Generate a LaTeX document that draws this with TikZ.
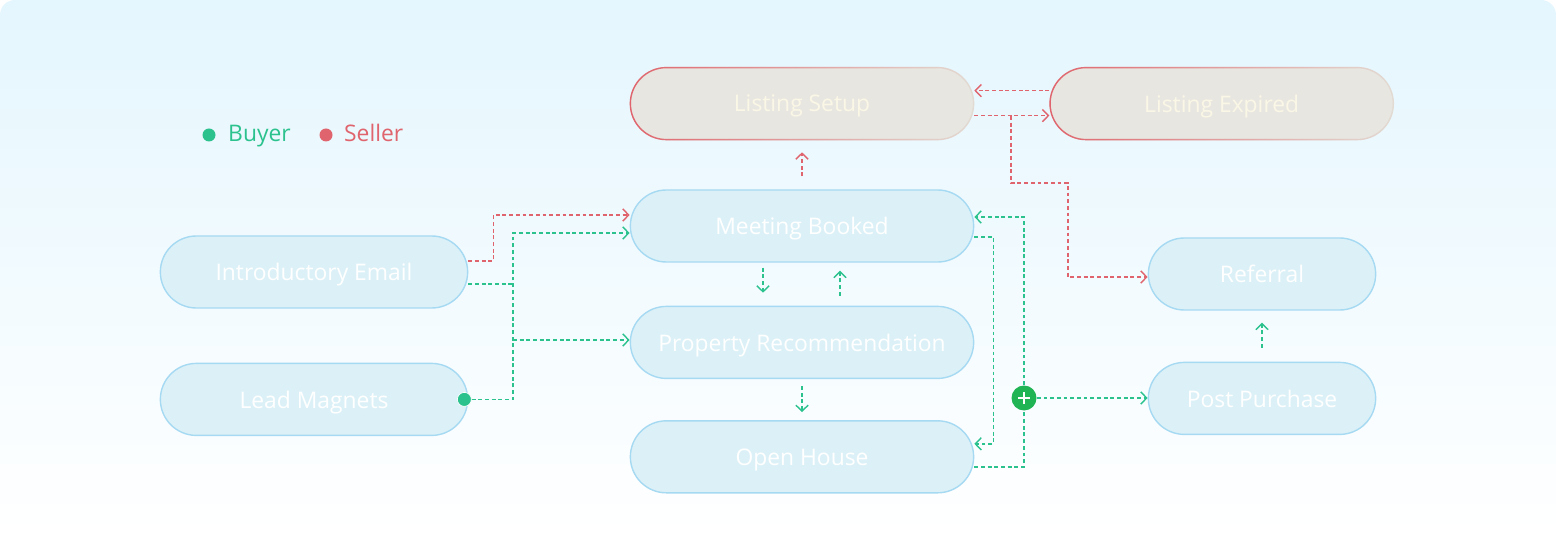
\documentclass[tikz,border=0pt]{standalone}
\usepackage{fontspec}
\setmainfont{Open Sans}
\usepackage{xcolor}
\usetikzlibrary{arrows.meta,positioning,shapes.misc,calc,fadings}
\definecolor{buyergreen}{HTML}{2BC28E}
\definecolor{sellerred}{HTML}{E0646D}
\definecolor{stagefill}{HTML}{DCF1F7}
\definecolor{stageline}{HTML}{A6D9F2}
\definecolor{listfill}{HTML}{E8E6E0}
\definecolor{listline}{HTML}{E3DCD4}
\definecolor{listtext}{HTML}{FBF7E6}
\definecolor{bgtop}{HTML}{E4F6FE}
\definecolor{plusgreen}{HTML}{20B455}

\begin{document}
\begin{tikzpicture}[
font=\fontsize{13}{15}\selectfont,
stage/.style={rounded rectangle, draw=stageline, fill=stagefill, line width=0.8pt, minimum width=7.1cm, minimum height=1.44cm, text depth=0pt, text=white},
listing/.style={rounded rectangle, draw=listline, fill=listfill, line width=0.8pt, minimum width=7.1cm, minimum height=1.44cm, text depth=0pt, text=listtext, postaction={draw=sellerred, path fading=east}},
dot/.style={circle, inner sep=0pt, minimum size=0.26cm},
buyerline/.style={buyergreen, line width=0.85pt, dash pattern=on 2.2pt off 1.6pt},
sellerline/.style={sellerred, line width=0.85pt, dash pattern=on 2.2pt off 1.6pt},
buyerarrow/.style={buyerline, -{Straight Barb[length=3.4pt, width=7pt, line width=0.8pt]}},
sellerarrow/.style={sellerline, -{Straight Barb[length=3.4pt, width=7pt, line width=0.8pt]}}
]
\useasboundingbox (0,0) rectangle (31.12,-10.66);
\shade[top color=bgtop, bottom color=white, rounded corners=0.3cm] (0,0) rectangle (31.12,-10.66);

\node[dot, fill=buyergreen] (buyerdot) at (4.18,-2.70) {};
\node[anchor=mid west, text=buyergreen, inner sep=0pt] (buyer) at ([xshift=0.24cm, yshift=-0.04cm]buyerdot.east) {Buyer};
\node[dot, fill=sellerred] (sellerdot) at (6.52,-2.70) {};
\node[anchor=mid west, text=sellerred, inner sep=0pt] (seller) at ([xshift=0.22cm, yshift=-0.04cm]sellerdot.east) {Seller};

\node[stage] (meeting) at (16.04,-4.52) {Meeting Booked};
\node[listing, above=0.98cm of meeting] (setup) {Listing Setup};
\node[listing, right=1.5cm of setup] (expired) {Listing Expired};
\node[stage, below=0.86cm of meeting] (prop) {Property Recommendation};
\node[stage, below=0.82cm of prop] (open) {Open House};
\node[stage, minimum width=6.38cm] (intro) at (6.28,-5.44) {Introductory Email};
\node[stage, minimum width=6.38cm, below=1.08cm of intro] (lead) {Lead Magnets};
\node[stage, minimum width=4.78cm] (referral) at (25.24,-5.48) {Referral};
\node[stage, minimum width=4.78cm, below=1.02cm of referral] (post) {Post Purchase};

\node[dot, fill=buyergreen, draw=white, line width=0.4pt, minimum size=0.28cm] (leaddot) at ([xshift=-0.08cm]lead.east) {};
\node[circle, fill=plusgreen, inner sep=0pt, minimum size=0.5cm,
  path picture={\draw[white, line width=1.3pt] ([xshift=-0.12cm]path picture bounding box.center) -- ([xshift=0.12cm]path picture bounding box.center) ([yshift=-0.12cm]path picture bounding box.center) -- ([yshift=0.12cm]path picture bounding box.center);}] (plus) at (20.48,-7.96) {};

\coordinate (gbus) at (10.26,-6.80);
\coordinate (rsplit) at (20.22,-2.32);
\coordinate (rbend) at (21.36,-3.66);

\draw[sellerarrow] ([yshift=0.22cm]intro.east) -- ++(0.5,0) |- ([yshift=0.22cm]meeting.west);
\draw[buyerarrow] (leaddot) -| (gbus) |- ([yshift=-0.14cm]meeting.west);
\draw[buyerline] ([yshift=-0.24cm]intro.east) -- ([yshift=-0.24cm]intro.east -| gbus);
\draw[buyerarrow] (gbus) -- (prop.west |- gbus);

\draw[sellerarrow] ([yshift=0.26cm]meeting.north) -- ([yshift=-0.24cm]setup.south);
\draw[buyerarrow] ([xshift=-0.78cm, yshift=-0.1cm]meeting.south) -- ([xshift=-0.78cm, yshift=0.26cm]prop.north);
\draw[buyerarrow] ([xshift=0.76cm, yshift=0.2cm]prop.north) -- ([xshift=0.76cm, yshift=-0.16cm]meeting.south);
\draw[buyerarrow] ([yshift=-0.14cm]prop.south) -- ([yshift=0.16cm]open.north);

\draw[sellerarrow] ([yshift=0.26cm]expired.west) -- ([yshift=0.26cm]setup.east);
\draw[sellerarrow] ([yshift=-0.24cm]setup.east) -- ([yshift=-0.24cm]expired.west);
\draw[sellerarrow] (rsplit) |- (rbend) |- ([yshift=-0.06cm]referral.west);

\draw[buyerarrow] ([yshift=-0.22cm]meeting.east) -- ++(0.38,0) |- ([yshift=0.26cm]open.east);
\draw[buyerarrow] (plus) |- ([yshift=0.18cm]meeting.east);
\draw[buyerline] ([yshift=-0.2cm]open.east) -| (plus);
\draw[buyerarrow] (plus) -- (post.west |- plus);
\draw[buyerarrow] ([yshift=0.28cm]post.north) -- ([yshift=-0.24cm]referral.south);
\end{tikzpicture}
\end{document}
